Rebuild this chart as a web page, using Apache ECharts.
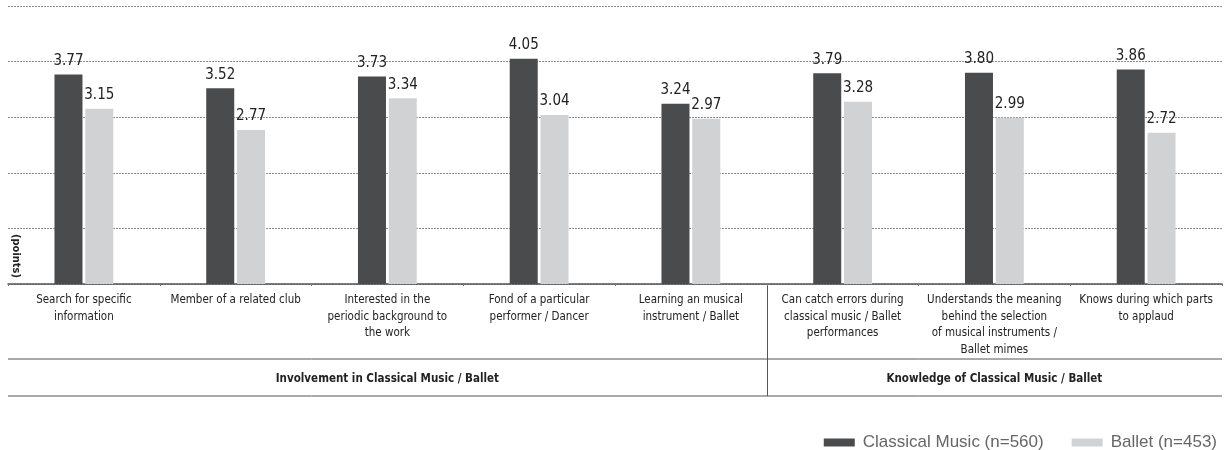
<!DOCTYPE html>
<html>
<head>
<meta charset="utf-8">
<script src="https://cdn.jsdelivr.net/npm/echarts@6/dist/echarts.min.js"></script>
<style>
  html, body { margin: 0; padding: 0; background: #fff; }
  #chart { width: 1232px; height: 450px; }
</style>
</head>
<body>
<div id="chart"></div>
<script>
// Items surveyed, in display order
const categories = [
  'Search for specific\ninformation',
  'Member of a related club',
  'Interested in the\nperiodic background to\nthe work',
  'Fond of a particular\nperformer / Dancer',
  'Learning an musical\ninstrument / Ballet',
  'Can catch errors during\nclassical music / Ballet\nperformances',
  'Understands the meaning\nbehind the selection\nof musical instruments /\nBallet mimes',
  'Knows during which parts\nto applaud'
];

// Mean scores (points)
const classicalMusic = [3.77, 3.52, 3.73, 4.05, 3.24, 3.79, 3.80, 3.86];
const ballet = [3.15, 2.77, 3.34, 3.04, 2.97, 3.28, 2.99, 2.72];

const seriesNames = ['Classical Music (n=560)', 'Ballet (n=453)'];

// Groups of items: name and number of items each covers
const groupNames = ['Involvement in Classical Music / Ballet', 'Knowledge of Classical Music / Ballet'];
const groupSizes = [5, 3];

// Y axis range
const yMin = 0, yMax = 5, yStep = 1;

const NARROW = '"Liberation Sans Narrow", "Arial Narrow", "DejaVu Sans Condensed", sans-serif';
const REGULAR = '"Liberation Sans", Arial, Helvetica, sans-serif';
const DARK = '#4a4b4d';
const LIGHT = '#d1d2d4';

// Index of the middle category of each group (for centring group titles)
const groupCentres = [];
{
  let start = 0;
  groupSizes.forEach(n => { groupCentres.push(start + (n - 1) / 2); start += n; });
}

const chart = echarts.init(document.getElementById('chart'), null, { renderer: 'canvas' });

const labelStyle = {
  show: true,
  position: 'top',
  distance: 6,
  fontFamily: NARROW,
  fontSize: 15,
  color: '#222',
  formatter: p => p.value.toFixed(2)
};

chart.setOption({
  animation: false,
  backgroundColor: '#fff',
  grid: { left: 8, right: 10, top: 6, bottom: 166, containLabel: false },
  legend: {
    right: 10,
    top: 429,
    itemWidth: 31,
    itemHeight: 8,
    itemGap: 28,
    icon: 'rect',
    textStyle: { fontFamily: REGULAR, fontSize: 17, color: '#666', padding: [0, 0, 0, 3] },
    data: seriesNames
  },
  xAxis: [
    {
      type: 'category',
      data: categories,
      axisLine: { show: true, lineStyle: { color: '#555', width: 1.5 } },
      axisTick: { show: true, length: 2, lineStyle: { color: '#777' } },
      axisLabel: {
        interval: 0,
        margin: 8,
        fontFamily: NARROW,
        fontSize: 11.5,
        lineHeight: 16.5,
        color: '#222',
        align: 'center'
      }
    },
    {
      type: 'category',
      data: categories,
      position: 'bottom',
      offset: 88,
      axisLine: { show: false },
      axisTick: { show: false },
      axisLabel: {
        interval: (i) => groupCentres.some(c => Math.floor(c) === i),
        margin: 0,
        fontFamily: NARROW,
        fontSize: 11.5,
        fontWeight: 'bold',
        lineHeight: 14,
        color: '#222',
        formatter: (v, i) => {
          const g = groupCentres.findIndex(c => Math.floor(c) === i);
          return g >= 0 ? groupNames[g] : '';
        }
      }
    }
  ],
  yAxis: {
    type: 'value',
    min: yMin,
    max: yMax,
    interval: yStep,
    axisLine: { show: false },
    axisTick: { show: false },
    axisLabel: { show: false },
    splitLine: { show: true, lineStyle: { color: '#8a8a8a', type: [2, 1], width: 1 } }
  },
  series: [
    {
      name: seriesNames[0],
      type: 'bar',
      data: classicalMusic,
      barWidth: 28,
      barGap: '10%',
      itemStyle: { color: DARK },
      label: labelStyle
    },
    {
      name: seriesNames[1],
      type: 'bar',
      data: ballet,
      barWidth: 28,
      barGap: '10%',
      itemStyle: { color: LIGHT },
      label: labelStyle
    }
  ]
});

// Table rules under the axis, placed from the category scale
function drawRules() {
  const c0 = chart.convertToPixel({ xAxisIndex: 0 }, 0);
  const c1 = chart.convertToPixel({ xAxisIndex: 0 }, 1);
  const band = c1 - c0;
  const left = c0 - band / 2;
  const right = left + band * categories.length;
  const base = chart.convertToPixel({ yAxisIndex: 0 }, yMin);
  const rowLine1 = base + 75;
  const rowLine2 = base + 112;

  const elements = [
    { type: 'line', shape: { x1: left, y1: rowLine1, x2: right, y2: rowLine1 }, style: { stroke: '#555', lineWidth: 1 } },
    { type: 'line', shape: { x1: left, y1: rowLine2, x2: right, y2: rowLine2 }, style: { stroke: '#555', lineWidth: 1 } },
    {
      type: 'text',
      x: 16, y: base - 28,
      rotation: -Math.PI / 2,
      style: {
        text: '(points)',
        font: 'bold 11px ' + NARROW,
        fill: '#222',
        align: 'center',
        verticalAlign: 'middle'
      }
    }
  ];
  let idx = 0;
  groupSizes.slice(0, -1).forEach(n => {
    idx += n;
    const x = Math.round(left + band * idx) + 0.5;
    elements.push({ type: 'line', shape: { x1: x, y1: base, x2: x, y2: rowLine2 }, style: { stroke: '#555', lineWidth: 1 } });
  });
  chart.setOption({ graphic: { elements } });
}
drawRules();
</script>
</body>
</html>
